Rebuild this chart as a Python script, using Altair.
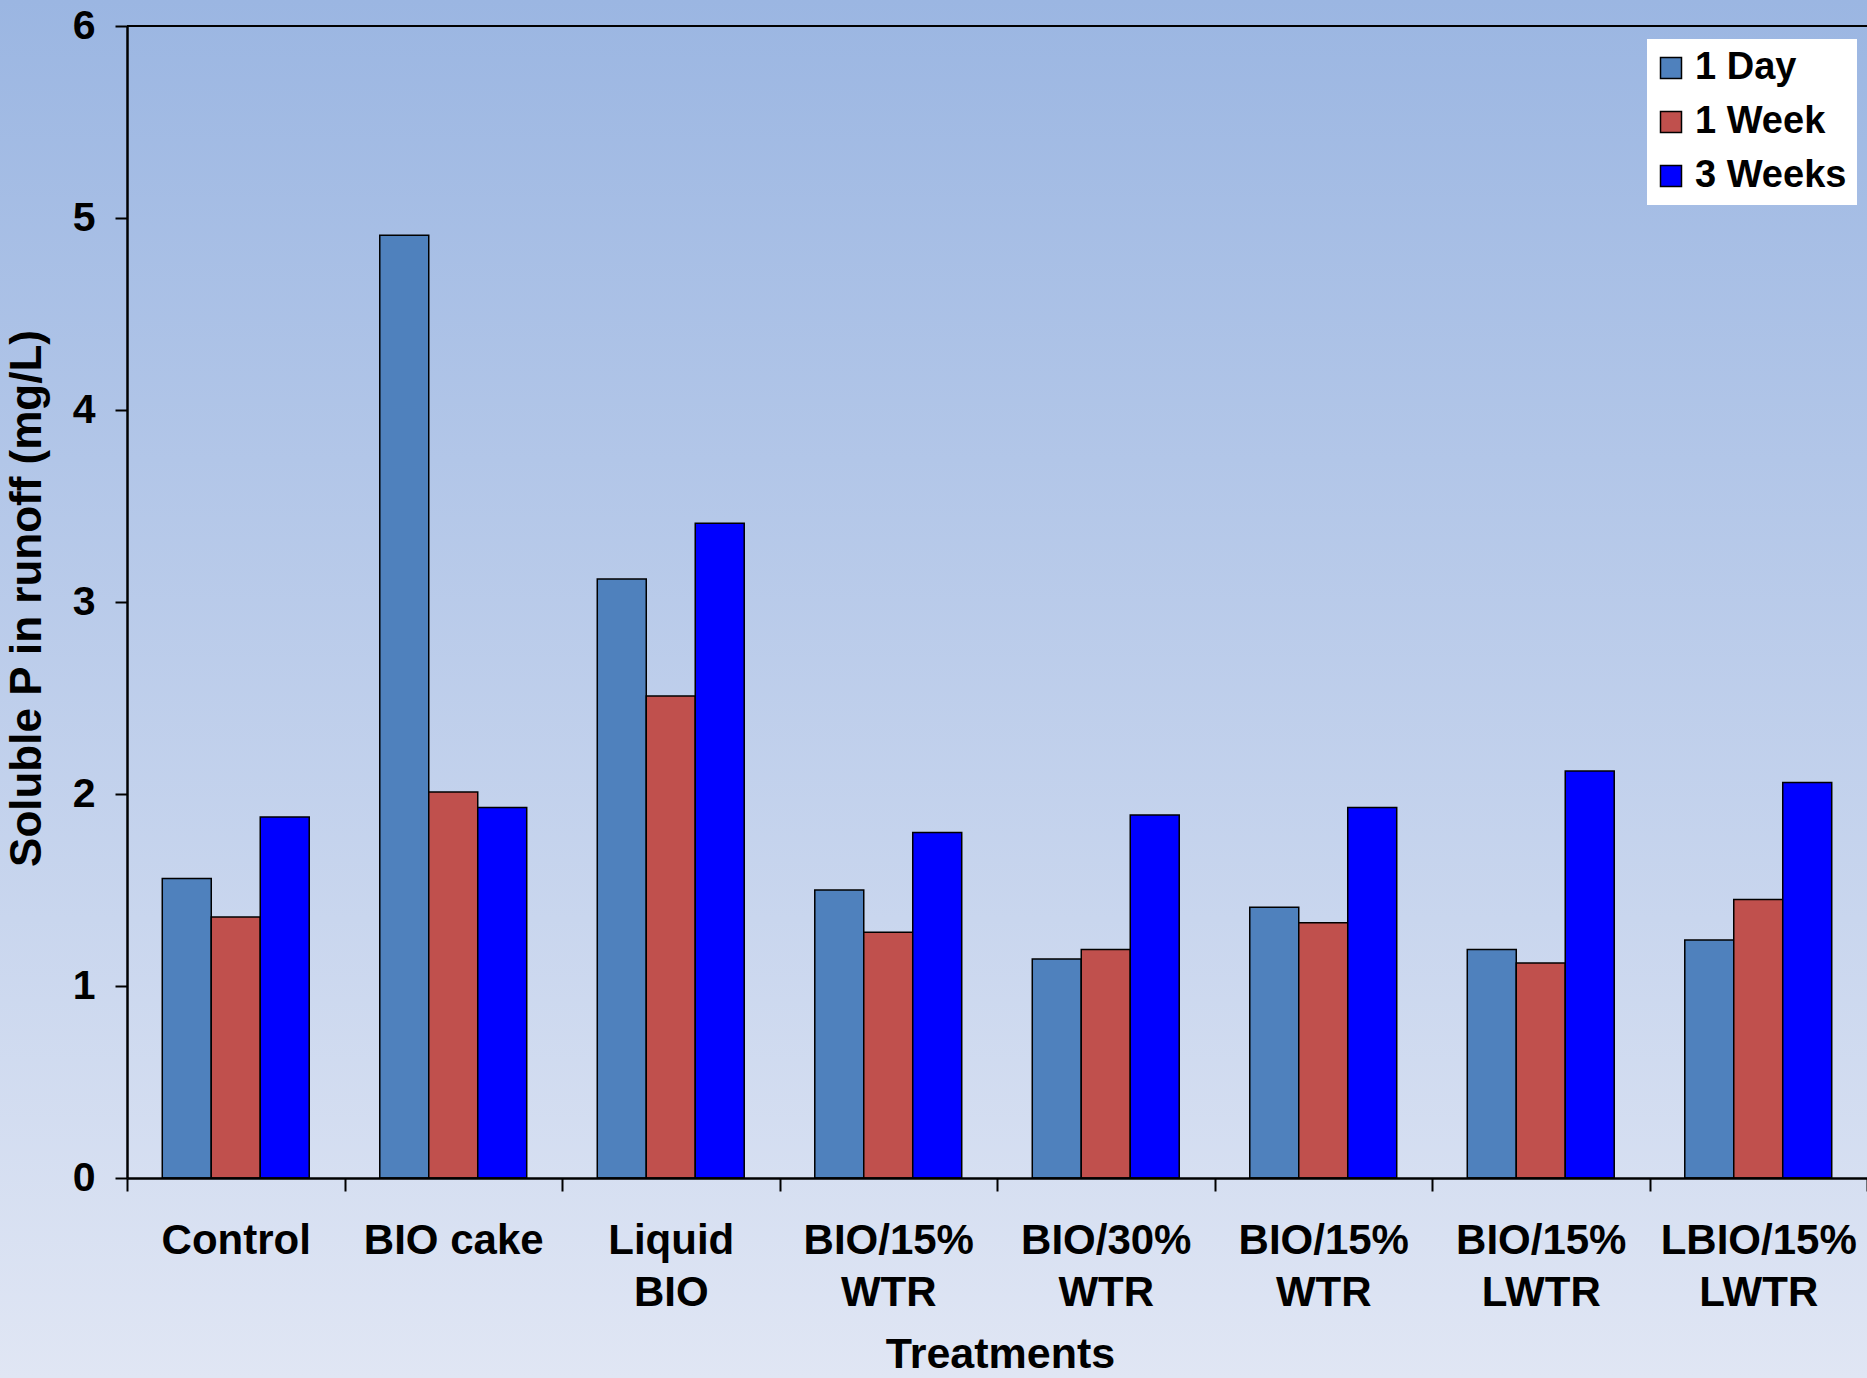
import altair as alt
import pandas as pd

treatments = ["Control", "BIO cake", "Liquid|BIO", "BIO/15%|WTR", "BIO/30%|WTR",
              "BIO/15%|WTR ", "BIO/15%|LWTR", "LBIO/15%|LWTR"]
periods = ["1 Day", "1 Week", "3 Weeks"]
day1 = [1.56, 4.91, 3.12, 1.50, 1.14, 1.41, 1.19, 1.24]
week1 = [1.36, 2.01, 2.51, 1.28, 1.19, 1.33, 1.12, 1.45]
weeks3 = [1.88, 1.93, 3.41, 1.80, 1.89, 1.93, 2.12, 2.06]
colors = ["#4F81BD", "#C0504D", "#0000FF"]

rows = []
for i, t in enumerate(treatments):
    for p, vals in zip(periods, [day1, week1, weeks3]):
        rows.append({"treat": t, "period": p, "value": vals[i]})
df = pd.DataFrame(rows)

W, H = 1740, 1152
FONT = "Liberation Sans"

bg = alt.Chart(alt.Data(values=[{}])).mark_rect(
    fill=alt.Gradient(gradient="linear", x1=0, y1=0, x2=0, y2=1,
                      stops=[alt.GradientStop(color="#9BB6E2", offset=0),
                             alt.GradientStop(color="#E0E6F4", offset=1)]),
    clip=False,
).encode(x=alt.value(-127), x2=alt.value(W), y=alt.value(-26), y2=alt.value(H + 200))

bars = alt.Chart(df).mark_bar(stroke="black", strokeWidth=1.5).encode(
    x=alt.X("treat:N", sort=treatments, title="Treatments",
            scale=alt.Scale(paddingInner=0, paddingOuter=0),
            axis=alt.Axis(labelExpr="split(datum.label, '|')", labelAngle=0, zindex=1,
                          labelFontSize=42, labelFontWeight="bold", labelFont=FONT,
                          labelColor="black", labelLineHeight=52, labelPadding=29,
                          labelLimit=400,
                          tickSize=13, tickWidth=2, tickColor="black", tickBand="extent",
                          domainColor="black", domainWidth=2.5,
                          titleFontSize=43, titleFont=FONT, titleFontWeight="bold",
                          titleColor="black", titleX=873, titleY=189,
                          titleBaseline="alphabetic", titleAlign="center")),
    xOffset=alt.XOffset("period:N", sort=periods,
                        scale=alt.Scale(paddingInner=0, paddingOuter=0.72)),
    y=alt.Y("value:Q", title="Soluble P in runoff (mg/L)",
            scale=alt.Scale(domain=[0, 6], nice=False),
            axis=alt.Axis(values=[0, 1, 2, 3, 4, 5, 6], format="d", grid=False, zindex=1,
                          labelFontSize=41, labelFontWeight="bold", labelFont=FONT,
                          labelColor="black", labelPadding=20,
                          tickSize=12, tickWidth=2, tickColor="black",
                          domainColor="black", domainWidth=2.5,
                          titleFontSize=44, titleFont=FONT, titleFontWeight="bold",
                          titleColor="black", titleAngle=-90, titleX=-87, titleY=572,
                          titleBaseline="alphabetic", titleAlign="center")),
    color=alt.Color("period:N", sort=periods,
                    scale=alt.Scale(domain=periods, range=colors),
                    legend=alt.Legend(title=None, orient="none", legendX=1520, legendY=13,
                                      fillColor="white", padding=10,
                                      symbolType="square", symbolSize=441,
                                      symbolStrokeColor="black", symbolStrokeWidth=1.5,
                                      symbolOffset=-5,
                                      labelFontSize=38, labelFont=FONT,
                                      labelFontWeight="bold", labelColor="black",
                                      rowPadding=16, labelOffset=5)),
)

top = alt.Chart(alt.Data(values=[{}])).mark_rule(color="black", strokeWidth=2).encode(
    y=alt.datum(6), x=alt.value(0), x2=alt.value(W))

chart = alt.layer(bg, bars, top).properties(
    width=W, height=H,
    autosize=alt.AutoSizeParams(type="none"),
    padding={"left": 127, "top": 26, "right": 0, "bottom": 200},
    background="#E0E6F4",
).configure_view(stroke=None)

chart.save("out.html", embed_options={"renderer": "svg", "actions": False})
